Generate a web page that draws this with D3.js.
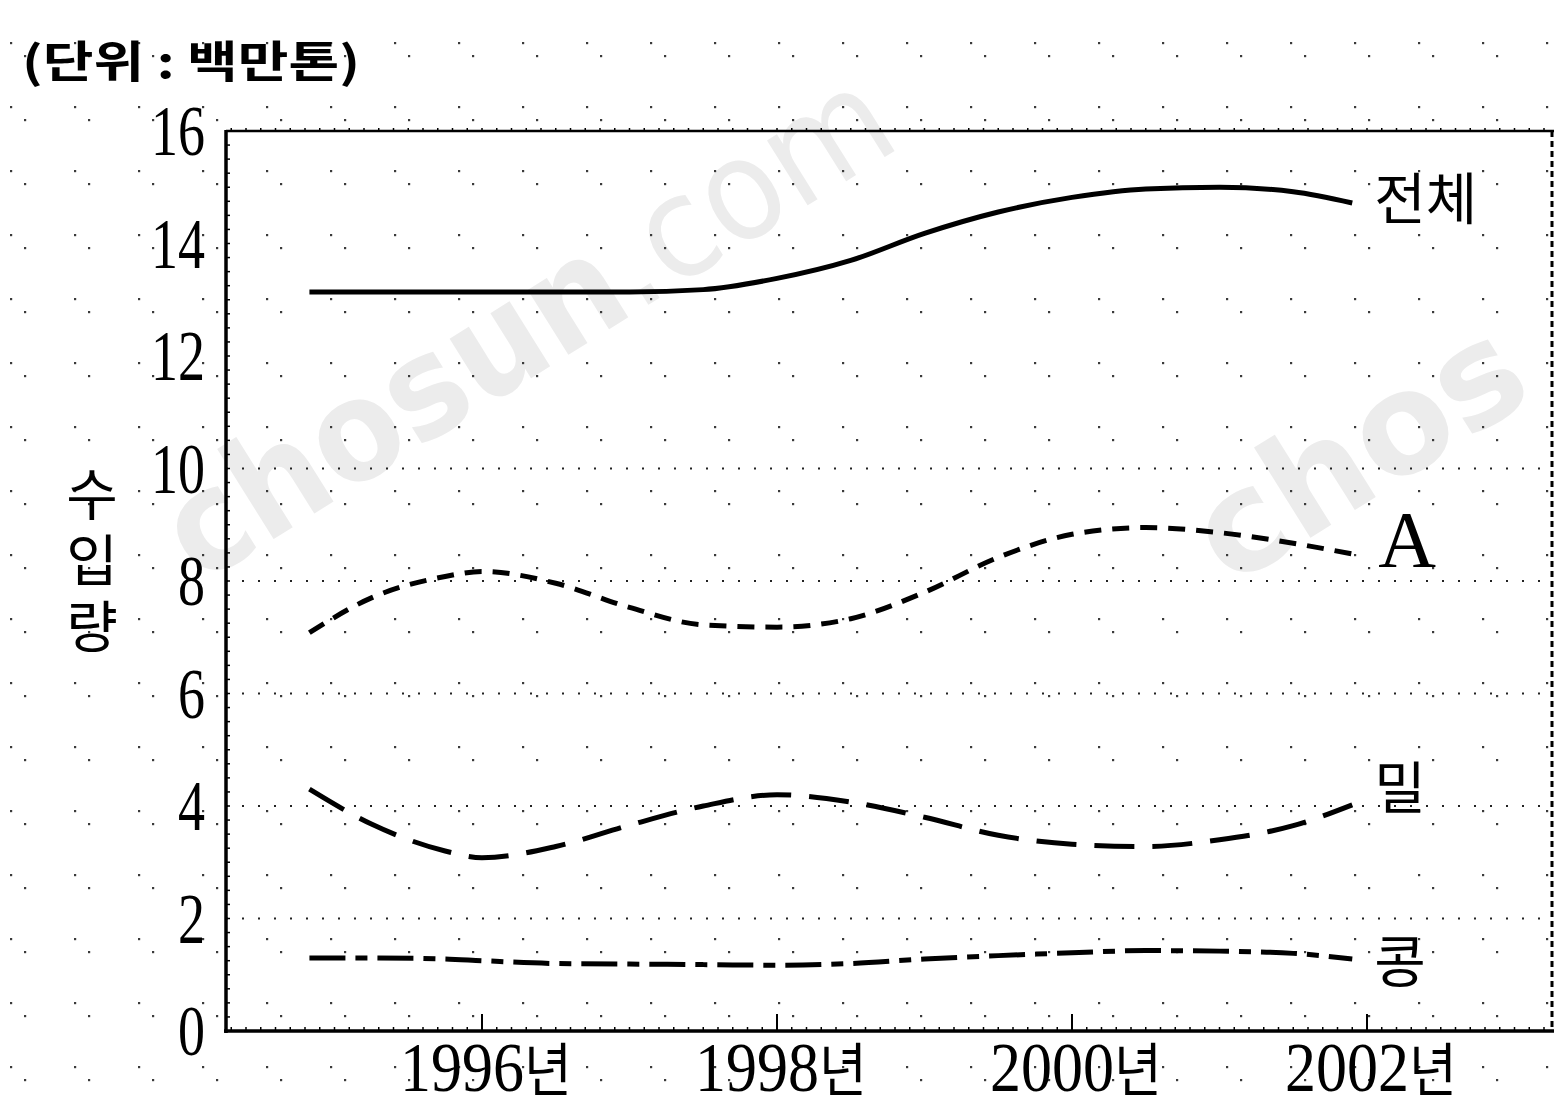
<!DOCTYPE html>
<html><head><meta charset="utf-8">
<script src="https://cdn.jsdelivr.net/npm/d3@7"></script>
<style>html,body{margin:0;padding:0;background:#fff;}svg{display:block;}</style>
</head><body>
<script>
// ---- data ----
const years   = [1994.83, 1995.25, 1995.75, 1996, 1996.5, 1997, 1997.5, 1998, 1998.5, 1999, 1999.5, 2000, 2000.5, 2001, 2001.5, 2001.9];
const total   = [13.14, 13.14, 13.14, 13.14, 13.14, 13.14, 13.18, 13.38, 13.7, 14.18, 14.56, 14.82, 14.97, 15.0, 14.92, 14.72];
const seriesA = [7.08, 7.7, 8.08, 8.17, 7.96, 7.53, 7.22, 7.18, 7.33, 7.8, 8.42, 8.83, 8.95, 8.86, 8.67, 8.48];
const wheat   = [4.3, 3.68, 3.2, 3.08, 3.28, 3.66, 4.0, 4.2, 4.07, 3.8, 3.48, 3.32, 3.28, 3.4, 3.65, 4.02];
const soy     = [1.3, 1.3, 1.28, 1.25, 1.2, 1.19, 1.18, 1.17, 1.2, 1.28, 1.34, 1.39, 1.43, 1.42, 1.38, 1.28];
const seriesNames = ["전체", "A", "밀", "콩"];
const yTicks = [0, 2, 4, 6, 8, 10, 12, 14, 16];
const gridValues = [2, 4, 6, 8, 10];
const xTicks = [1996, 1998, 2000, 2002];
const xTickLabels = ["1996", "1998", "2000", "2002"];
const xSuffix = "년";
const unitTitle = "(단위 : 백만톤)";
const yTitle = "수입량";
const watermark = ["chosun", ".com"];
const watermarkCut = "chos";

(function () {
// ---- layout ----
const W = 1554, H = 1109;
const pL = 226, pR = 1552, pT = 131, pB = 1031;
const x = d3.scaleLinear().domain([1996, 2002]).range([482, 1367]);
const y = d3.scaleLinear().domain([0, 16]).range([pB, pT]);

const svg = d3.select("body").append("svg").attr("width", W).attr("height", H)
  .attr("viewBox", `0 0 ${W} ${H}`);
svg.append("rect").attr("width", W).attr("height", H).attr("fill", "#fff");

const defs = svg.append("defs");
const pat = defs.append("pattern").attr("id", "tone").attr("patternUnits", "userSpaceOnUse")
  .attr("width", 64).attr("height", 64);
pat.append("rect").attr("x", 10).attr("y", 42).attr("width", 2.2).attr("height", 2.2).attr("fill", "#3a3a3a");
pat.append("rect").attr("x", 24).attr("y", 55).attr("width", 2.2).attr("height", 2.2).attr("fill", "#3a3a3a");

// watermark
const wmFont = "DejaVu Sans, Liberation Sans, sans-serif";
const wm1 = svg.append("text").attr("transform", "translate(200,585) rotate(-32)")
  .attr("font-family", wmFont).attr("font-size", 140).attr("fill", "#ececec")
  .attr("textLength", 830).attr("lengthAdjust", "spacingAndGlyphs");
wm1.append("tspan").attr("font-weight", "bold").text(watermark[0]);
wm1.append("tspan").attr("font-weight", "normal").text(watermark[1]);
svg.append("text").attr("transform", "translate(1230,588) rotate(-32)")
  .attr("font-family", wmFont).attr("font-size", 140).attr("fill", "#ececec")
  .attr("font-weight", "bold").text(watermarkCut);

// screen tone
svg.append("rect").attr("width", W).attr("height", H).attr("fill", "url(#tone)");

// grid lines (dotted)
svg.append("g").selectAll("line").data(gridValues).join("line")
  .attr("x1", pL).attr("x2", W).attr("y1", d => y(d)).attr("y2", d => y(d))
  .attr("stroke", "#222").attr("stroke-width", 2).attr("stroke-dasharray", "2 14");

// frame
const frame = svg.append("g").attr("stroke", "#000").attr("fill", "none");
frame.append("line").attr("x1", pL).attr("x2", W).attr("y1", pT).attr("y2", pT).attr("stroke-width", 2.5);
frame.append("line").attr("x1", pR).attr("x2", pR).attr("y1", pT).attr("y2", pB)
  .attr("stroke-width", 3).attr("stroke-dasharray", "6 4");
frame.append("line").attr("x1", pL).attr("x2", pL).attr("y1", pT - 1).attr("y2", pB + 2).attr("stroke-width", 3.5);
frame.append("line").attr("x1", pL - 2).attr("x2", W).attr("y1", pB).attr("y2", pB).attr("stroke-width", 3.5);

// minor ticks
const minorY = d3.range(0, 16, 0.25);
frame.append("g").selectAll("line").data(minorY).join("line")
  .attr("x1", pL).attr("x2", pL + 4).attr("y1", d => y(d)).attr("y2", d => y(d)).attr("stroke-width", 1.5);
const xMin = x.invert(pL), xMax = x.invert(W);
const minorX = d3.range(Math.ceil(xMin * 10) / 10, xMax, 0.1);
frame.append("g").selectAll("line").data(minorX).join("line")
  .attr("x1", d => x(d)).attr("x2", d => x(d)).attr("y1", pB).attr("y2", pB - 4).attr("stroke-width", 1.5);
frame.append("g").selectAll("line").data(minorX).join("line")
  .attr("x1", d => x(d)).attr("x2", d => x(d)).attr("y1", pT).attr("y2", pT - 3).attr("stroke-width", 1.5);

// major x ticks
frame.append("g").selectAll("line").data(xTicks).join("line")
  .attr("x1", d => x(d)).attr("x2", d => x(d)).attr("y1", pB).attr("y2", pB - 17).attr("stroke-width", 2);

// y tick labels (condensed serif, stretched vertically)
svg.append("g").selectAll("text").data(yTicks).join("text")
  .attr("transform", d => `translate(205,${y(d) + 24}) scale(1,1.35)`)
  .attr("text-anchor", "end").attr("font-family", "Liberation Serif, serif")
  .attr("font-size", 54).attr("fill", "#000").text(d => d);

// x tick labels
const xl = svg.append("g").selectAll("text").data(xTicks).join("text")
  .attr("transform", d => `translate(${x(d) - 82},1091) scale(1,1.12)`)
  .attr("fill", "#000");
xl.append("tspan").attr("font-family", "Liberation Serif, serif").attr("font-size", 62)
  .text((d, i) => xTickLabels[i]);
xl.append("tspan").attr("font-family", "Noto Sans CJK KR, sans-serif").attr("font-size", 52)
  .text(xSuffix);

// unit title
svg.append("text").attr("x", 22).attr("y", 78).attr("font-family", "Noto Sans CJK KR, sans-serif")
  .attr("font-size", 44).attr("font-weight", "bold").attr("textLength", 338).attr("lengthAdjust", "spacingAndGlyphs")
  .text(unitTitle);

// y title (vertical, upright characters)
svg.append("text").attr("x", 92).attr("y", 466)
  .attr("style", "writing-mode: vertical-rl; text-orientation: upright; letter-spacing: 10px;")
  .attr("font-family", "Noto Sans CJK KR, sans-serif").attr("font-size", 56).text(yTitle);

// lines
const series = [
  {name: seriesNames[0], values: total,   dash: null,           dy: -5},
  {name: seriesNames[1], values: seriesA, dash: "17 11",        dy: -15},
  {name: seriesNames[2], values: wheat,   dash: "40 18",        dy: -18},
  {name: seriesNames[3], values: soy,     dash: "36 10 12 10",  dy: 2},
];
const line = d3.line().x(d => x(d[0])).y(d => y(d[1])).curve(d3.curveMonotoneX);
svg.append("g").selectAll("path").data(series).join("path")
  .attr("d", s => line(years.map((yr, i) => [yr, s.values[i]])))
  .attr("fill", "none").attr("stroke", "#000").attr("stroke-width", 5)
  .attr("stroke-linecap", "butt")
  .attr("stroke-dasharray", s => s.dash);

// series labels
svg.append("g").selectAll("text").data(series).join("text")
  .attr("x", s => x(years[years.length - 1]) + (s.name === "A" ? 26 : 22))
  .attr("y", s => y(s.values[s.values.length - 1]) + s.dy + (s.name === "A" ? 28 : 21))
  .attr("font-family", s => s.name === "A" ? "Liberation Serif, serif" : "Noto Sans CJK KR, sans-serif")
  .attr("font-size", s => s.name === "A" ? 80 : 56)
  .attr("fill", "#000").text(s => s.name);
})();
</script>
</body></html>
